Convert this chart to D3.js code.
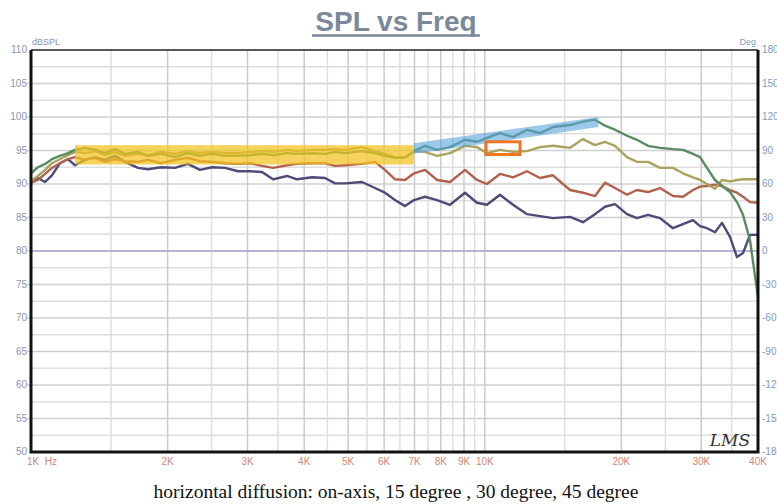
<!DOCTYPE html>
<html>
<head>
<meta charset="utf-8">
<script src="https://cdn.jsdelivr.net/npm/d3@7"></script>
<style>
  body { margin: 0; background: #fff; }
  svg { display: block; }
</style>
</head>
<body>
<div id="chart"></div>
<script>
// frequency points (Hz) shared by all four traces
var freqs = [1000, 1036, 1074, 1112, 1158, 1206, 1250, 1315, 1384, 1456, 1531, 1611, 1721, 1811, 1934,
  2076, 2218, 2357, 2505, 2676, 2859, 3038, 3228, 3415, 3665, 3857, 4162, 4446, 4677, 4920, 5362,
  5728, 6027, 6340, 6672, 6982, 7384, 7847, 8382, 9045, 9612, 10110, 10800, 11540, 12390, 13230,
  14130, 15410, 16460, 17490, 18400, 19360, 20580, 21640, 22890, 24330, 25980, 27340, 28760, 29810,
  30880, 32160, 33320, 34700, 35950, 37070, 38410, 40000];

var onAxis = [91.6, 92.5, 93.0, 93.7, 94.2, 94.6, 95.1, 95.4, 95.1, 94.6, 95.2, 94.5, 94.8, 94.2, 94.5,
  94.0, 94.6, 94.2, 94.5, 94.2, 94.2, 94.3, 94.5, 94.3, 94.6, 94.5, 94.6, 94.5, 94.8, 94.6, 94.9,
  94.6, 94.2, 93.9, 93.9, 94.9, 95.7, 95.1, 95.5, 96.6, 96.3, 96.9, 97.6, 97.0, 98.1, 97.6,
  98.5, 98.8, 99.3, 99.6, 98.7, 98.1, 97.2, 96.6, 95.7, 95.4, 95.2, 95.1, 94.5, 94.0,
  92.4, 90.6, 89.7, 88.8, 87.3, 85.4, 81.6, 73.1];

var deg15 = [90.4, 91.2, 92.1, 93.1, 93.7, 94.3, 94.8, 94.6, 94.9, 94.3, 94.8, 94.2, 94.5, 94.3, 94.8,
  94.5, 94.9, 94.6, 94.8, 94.6, 94.6, 94.8, 94.9, 94.8, 95.1, 94.9, 95.1, 95.1, 95.2, 95.1, 95.5,
  94.9, 94.5, 94.0, 94.0, 94.9, 94.8, 94.2, 94.6, 95.7, 95.5, 94.6, 95.1, 94.8, 94.9, 95.5,
  95.7, 95.4, 96.7, 95.8, 96.3, 95.7, 94.0, 93.3, 93.3, 92.4, 92.4, 91.6, 91.0, 90.6,
  90.0, 89.3, 90.6, 90.4, 90.6, 90.7, 90.7, 90.7];

var deg30 = [90.2, 90.6, 91.5, 92.4, 93.1, 93.7, 94.0, 93.6, 93.9, 93.3, 93.7, 93.4, 93.3, 93.6, 93.1,
  93.6, 93.9, 93.4, 93.3, 93.1, 93.0, 93.1, 92.7, 92.4, 92.8, 93.0, 93.1, 93.1, 92.7, 92.8, 93.0,
  93.3, 92.1, 90.7, 90.6, 91.6, 92.1, 90.6, 90.3, 92.1, 90.6, 90.0, 91.5, 91.0, 91.9, 90.9,
  91.3, 89.1, 88.7, 88.2, 90.2, 89.4, 88.4, 89.1, 88.8, 89.4, 88.2, 88.1, 89.1, 89.6,
  89.7, 89.9, 89.7, 89.1, 88.7, 88.1, 87.3, 87.2];

var deg45 = [90.4, 90.9, 90.3, 91.3, 93.1, 93.7, 92.8, 93.6, 94.0, 93.6, 94.2, 93.3, 92.4, 92.2, 92.5,
  92.4, 93.0, 92.1, 92.5, 92.4, 91.9, 91.9, 91.8, 90.7, 91.2, 90.7, 91.0, 90.9, 90.1, 90.1, 90.3,
  89.4, 88.7, 87.6, 86.7, 87.6, 88.1, 87.6, 86.9, 88.7, 87.2, 86.9, 88.4, 86.9, 85.5, 85.2,
  84.9, 85.1, 84.3, 85.5, 86.6, 87.0, 85.5, 84.9, 85.4, 84.9, 83.4, 84.0, 84.6, 83.7,
  83.4, 82.8, 84.2, 82.1, 79.1, 79.7, 82.4, 82.4];

var seriesNames = ['on-axis', '15 degree', '30 degree', '45 degree'];
var seriesColors = ['#5a8c62', '#aaa35e', '#b3604c', '#4d4a78'];

var freqTicks = [1000, 2000, 3000, 4000, 5000, 6000, 7000, 8000, 9000, 10000, 20000, 30000, 40000];
var freqTickLabels = ['1K  Hz', '2K', '3K', '4K', '5K', '6K', '7K', '8K', '9K', '10K', '20K', '30K', '40K'];
var freqMinor = [1500, 2500, 3500, 4500, 5500, 6500, 7500, 8500, 9500, 15000, 25000, 35000];

var
  width = 777,
  height = 504,
  plot = { left: 31, right: 758, top: 50, bottom: 452 };

var svg = d3.select('#chart').append('svg')
  .attr('width', width)
  .attr('height', height);

var
  x = d3.scaleLog().domain([1000, 40000]).range([plot.left, plot.right]),
  y = d3.scaleLinear().domain([50, 110]).range([plot.bottom, plot.top]),
  yDeg = d3.scaleLinear().domain([-180, 180]).range([plot.bottom, plot.top]);

// title
svg.append('text')
  .attr('x', 396).attr('y', 31)
  .attr('text-anchor', 'middle')
  .style('font', 'bold 28px "Liberation Sans", Arial, sans-serif')
  .attr('fill', '#7b889c')
  .text('SPL vs Freq');
svg.append('line')
  .attr('x1', 312).attr('x2', 480).attr('y1', 35.5).attr('y2', 35.5)
  .attr('stroke', '#7b889c').attr('stroke-width', 2.5);

// grid
var grid = svg.append('g');
grid.selectAll('.hminor').data(d3.range(52.5, 110, 5)).enter().append('line')
  .attr('x1', plot.left).attr('x2', plot.right)
  .attr('y1', function(d) { return y(d); }).attr('y2', function(d) { return y(d); })
  .attr('stroke', '#dedede').attr('stroke-width', 1.5);
grid.selectAll('.hmajor').data(d3.range(55, 110, 5)).enter().append('line')
  .attr('x1', plot.left - 4).attr('x2', plot.right)
  .attr('y1', function(d) { return y(d); }).attr('y2', function(d) { return y(d); })
  .attr('stroke', '#cfcfcf').attr('stroke-width', 1.5);
grid.selectAll('.vminor').data(freqMinor).enter().append('line')
  .attr('x1', function(d) { return x(d); }).attr('x2', function(d) { return x(d); })
  .attr('y1', plot.top).attr('y2', plot.bottom)
  .attr('stroke', '#dedede').attr('stroke-width', 1.5);
grid.selectAll('.vmajor').data(freqTicks.slice(1, -1)).enter().append('line')
  .attr('x1', function(d) { return x(d); }).attr('x2', function(d) { return x(d); })
  .attr('y1', plot.top).attr('y2', plot.bottom)
  .attr('stroke', '#cbcbcb').attr('stroke-width', 1.5);

// 0 degree reference line
svg.append('line')
  .attr('x1', plot.left).attr('x2', plot.right)
  .attr('y1', yDeg(0)).attr('y2', yDeg(0))
  .attr('stroke', '#b4b4d8').attr('stroke-width', 2);

// traces
var line = d3.line()
  .x(function(d) { return x(d[0]); })
  .y(function(d) { return y(d[1]); });
var allSeries = [deg45, deg30, deg15, onAxis];
var allColors = seriesColors.slice().reverse();
svg.append('g').selectAll('path')
  .data(allSeries)
  .enter()
  .append('path')
    .attr('d', function(s) { return line(freqs.map(function(f, i) { return [f, s[i]]; })); })
    .attr('fill', 'none')
    .attr('stroke', function(s, i) { return allColors[i]; })
    .attr('stroke-width', 2.4)
    .attr('stroke-linejoin', 'round');

// highlight marks drawn over the traces
svg.append('rect')
  .attr('x', x(1250)).attr('y', y(95.8))
  .attr('width', x(6980) - x(1250)).attr('height', y(92.9) - y(95.8))
  .attr('fill', '#f3c21f').attr('opacity', 0.72);
var band = [[6980, 96.1], [17800, 100.0], [17800, 98.5], [6980, 94.5]];
svg.append('path')
  .attr('d', d3.line().x(function(d) { return x(d[0]); }).y(function(d) { return y(d[1]); })(band) + 'Z')
  .attr('fill', '#5aa4dc').attr('opacity', 0.6);
svg.append('rect')
  .attr('x', x(10060)).attr('y', y(96.3))
  .attr('width', x(11960) - x(10060)).attr('height', y(94.4) - y(96.3))
  .attr('fill', 'none').attr('stroke', '#ee7526').attr('stroke-width', 3);

// frame
svg.append('line').attr('x1', plot.left).attr('x2', plot.right).attr('y1', plot.top).attr('y2', plot.top)
  .attr('stroke', '#222').attr('stroke-width', 1.5);
svg.append('path')
  .attr('d', 'M' + plot.left + ',' + plot.top + 'V' + plot.bottom + 'H' + plot.right + 'V' + plot.top)
  .attr('fill', 'none').attr('stroke', '#111').attr('stroke-width', 3);

// left axis labels
svg.append('g').selectAll('text').data(d3.range(50, 111, 5)).enter().append('text')
  .attr('x', 27).attr('y', function(d) { return y(d) + 3; })
  .attr('text-anchor', 'end')
  .style('font', '10px "Liberation Sans", Arial, sans-serif')
  .attr('fill', '#8a95b0')
  .text(function(d) { return d; });
svg.append('text').attr('x', 32).attr('y', 45)
  .style('font', '9px "Liberation Sans", Arial, sans-serif').attr('fill', '#8a95b0')
  .text('dBSPL');

// right axis labels (cut by the window edge, as in the original)
svg.append('g').selectAll('text').data(d3.range(-180, 181, 30)).enter().append('text')
  .attr('x', 762).attr('y', function(d) { return yDeg(d) + 3; })
  .style('font', '10px "Liberation Sans", Arial, sans-serif')
  .attr('fill', '#7f9ac4')
  .text(function(d) { return d; });
svg.append('text').attr('x', 756).attr('y', 45).attr('text-anchor', 'end')
  .style('font', '9px "Liberation Sans", Arial, sans-serif').attr('fill', '#7f9ac4')
  .text('Deg');

// bottom axis labels
svg.append('g').selectAll('text').data(freqTicks).enter().append('text')
  .attr('x', function(d, i) { return i === 0 ? x(d) - 4 : x(d); })
  .attr('y', 465)
  .attr('text-anchor', function(d, i) { return i === 0 ? 'start' : 'middle'; })
  .style('font', '10px "Liberation Sans", Arial, sans-serif')
  .style('white-space', 'pre')
  .attr('fill', '#cf8676')
  .text(function(d, i) { return freqTickLabels[i]; });

// LMS mark
svg.append('text').attr('x', 730).attr('y', 446).attr('text-anchor', 'middle')
  .style('font', 'italic 17px "DejaVu Serif", serif').attr('fill', '#333')
  .text('LMS');

// caption
svg.append('text')
  .attr('x', 396).attr('y', 498)
  .attr('text-anchor', 'middle')
  .style('font', '19.5px "Liberation Serif", "Times New Roman", serif')
  .attr('fill', '#111')
  .text('horizontal diffusion: ' + seriesNames[0] + ', ' + seriesNames[1] + ' , ' + seriesNames[2] + ', ' + seriesNames[3]);
</script>
</body>
</html>
